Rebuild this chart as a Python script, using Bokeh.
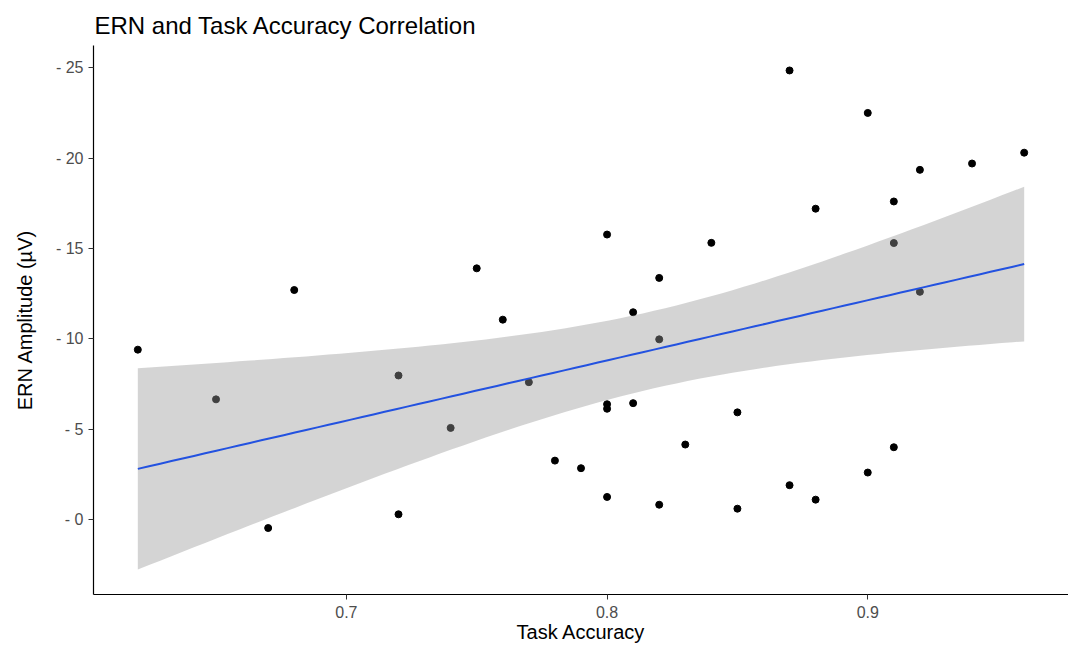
import numpy as np
from bokeh.plotting import figure
from bokeh.models import Range1d, FixedTicker, ColumnDataSource
from bokeh.embed import file_html
from bokeh.resources import INLINE

# ---- data ----
accuracy = [0.62, 0.65, 0.67, 0.68, 0.72, 0.72, 0.74, 0.75, 0.76, 0.77,
            0.78, 0.79, 0.80, 0.80, 0.80, 0.80, 0.81, 0.81, 0.82, 0.82,
            0.82, 0.83, 0.84, 0.85, 0.85, 0.87, 0.87, 0.88, 0.88, 0.90,
            0.90, 0.91, 0.91, 0.91, 0.92, 0.92, 0.94, 0.96]
ern_amplitude = [-9.40, -6.65, 0.47, -12.70, -7.97, -0.29, -5.07, -13.90, -11.06, -7.60,
                 -3.26, -2.84, -15.77, -6.38, -6.13, -1.25, -11.47, -6.44, -13.37, -9.97,
                 -0.82, -4.15, -15.31, -5.93, -0.60, -24.85, -1.90, -17.20, -1.10, -22.50,
                 -2.60, -17.60, -15.30, -4.00, -19.35, -12.60, -19.70, -20.30]

y_ticks = [-25, -20, -15, -10, -5, 0]
y_tick_labels = ["- 25", "- 20", "- 15", "- 10", "- 5", "- 0"]
x_ticks = [0.7, 0.8, 0.9]
x_tick_labels = ["0.7", "0.8", "0.9"]

title_text = "ERN and Task Accuracy Correlation"
x_title = "Task Accuracy"
y_title = "ERN Amplitude (\u00b5V)"

# ---- linear model with 95% confidence band (as geom_smooth(method="lm")) ----
x = np.array(accuracy)
y = np.array(ern_amplitude)
n = len(x)
slope, intercept = np.polyfit(x, y, 1)
xs = np.linspace(x.min(), x.max(), 80)
fit = intercept + slope * xs
resid = y - (intercept + slope * x)
s = np.sqrt(np.sum(resid ** 2) / (n - 2))
xbar = x.mean()
se = s * np.sqrt(1.0 / n + (xs - xbar) ** 2 / np.sum((x - xbar) ** 2))
t_crit = 2.028  # t(0.975, df=36)
lower = fit - t_crit * se
upper = fit + t_crit * se

# ranges with ggplot-like 5% expansion
x_lo, x_hi = x.min(), x.max()
x_pad = 0.05 * (x_hi - x_lo)
all_y = np.concatenate([y, lower, upper])
y_lo, y_hi = all_y.min(), all_y.max()
y_pad = 0.05 * (y_hi - y_lo)

FONT = "Liberation Sans"

p = figure(width=1068, height=645, output_backend="svg", toolbar_location=None,
           x_range=Range1d(x_lo - x_pad, x_hi + x_pad),
           y_range=Range1d(y_hi + y_pad, y_lo - y_pad),  # reversed: negative up
           min_border_left=93, min_border_right=0, min_border_top=45, min_border_bottom=50)

p.background_fill_color = "white"
p.border_fill_color = "white"
p.outline_line_color = None
p.grid.visible = False

# title
p.title.text = title_text
p.title.text_font = FONT
p.title.text_font_size = "24px"
p.title.text_font_style = "normal"
p.title.text_color = "black"
p.title.align = "left"
p.title.offset = 1
p.title.standoff = 14

# points first, then smooth (as in ggplot layering)
pts = ColumnDataSource(dict(x=accuracy, y=ern_amplitude))
p.scatter("x", "y", source=pts, size=7, color="black")

band = ColumnDataSource(dict(x=xs, lo=lower, hi=upper, fit=fit))
p.varea(x="x", y1="lo", y2="hi", source=band, fill_color="#999999", fill_alpha=0.42)
p.line("x", "fit", source=band, line_color="#2352E0", line_width=2)

# axes
for ax in (p.xaxis[0], p.yaxis[0]):
    ax.axis_line_color = "black"
    ax.axis_line_width = 1.2
    ax.major_tick_line_color = "#333333"
    ax.major_tick_out = 5
    ax.major_tick_in = 0
    ax.minor_tick_line_color = None
    ax.major_label_text_font = FONT
    ax.major_label_text_font_size = "16px"
    ax.major_label_text_color = "#4D4D4D"
    ax.axis_label_text_font = FONT
    ax.axis_label_text_font_size = "20px"
    ax.axis_label_text_font_style = "normal"
    ax.axis_label_text_color = "black"

p.xaxis.ticker = FixedTicker(ticks=x_ticks)
p.xaxis.major_label_overrides = dict(zip(x_ticks, x_tick_labels))
p.xaxis.axis_label = x_title
p.xaxis.major_label_standoff = 6
p.xaxis.axis_label_standoff = 0

p.yaxis.ticker = FixedTicker(ticks=y_ticks)
p.yaxis.major_label_overrides = dict(zip(y_ticks, y_tick_labels))
p.yaxis.axis_label = y_title
p.yaxis.major_label_standoff = 5
p.yaxis.axis_label_standoff = 17

open("out.html", "w").write(file_html(p, INLINE))
